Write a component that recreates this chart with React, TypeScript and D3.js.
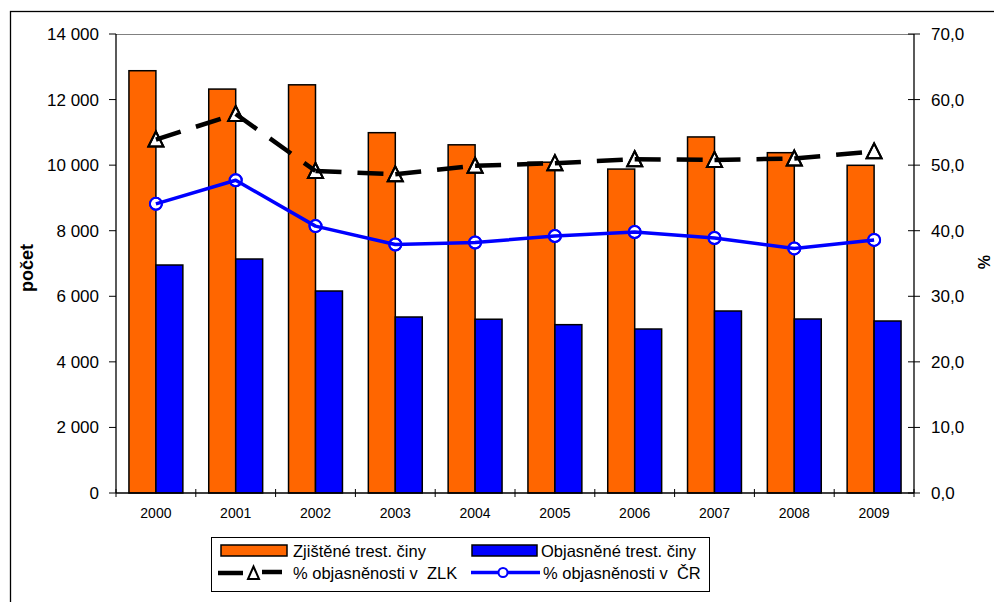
import React from "react";
import * as d3 from "d3";

const years = ["2000", "2001", "2002", "2003", "2004", "2005", "2006", "2007", "2008", "2009"];
const zjistene = [12880, 12320, 12450, 10990, 10620, 10090, 9880, 10860, 10380, 9995];
const objasnene = [6954, 7137, 6161, 5368, 5300, 5134, 5002, 5551, 5307, 5246];
const pctZLK = [53.9, 57.8, 49.1, 48.6, 49.9, 50.3, 50.9, 50.8, 51.0, 52.1];
const pctCR = [44.1, 47.7, 40.7, 37.9, 38.2, 39.2, 39.8, 38.9, 37.3, 38.6];
const leftTicks = [0, 2000, 4000, 6000, 8000, 10000, 12000, 14000];
const rightTicks = [0, 10, 20, 30, 40, 50, 60, 70];
const seriesNames = ["Zjištěné trest. činy", "Objasněné trest. činy", "% objasněnosti v  ZLK", "% objasněnosti v  ČR"];

const FONT = "'Liberation Sans', Arial, sans-serif";
const ORANGE = "#FF6600";
const BLUE = "#0000FF";

export default function App() {
  const L = 116, R = 914, T = 34, B = 493;
  const x = d3.scaleBand<string>().domain(years).range([L, R]).padding(0);
  const bw = x.bandwidth();
  const x1 = d3.scaleBand<string>().domain(["z", "o"]).range([0, bw]).paddingInner(0).paddingOuter(0.48);
  const yL = d3.scaleLinear().domain([0, 14000]).range([B, T]);
  const yR = d3.scaleLinear().domain([0, 70]).range([B, T]);
  const cx = (y: string) => (x(y) as number) + bw / 2;
  const fmtL = (v: number) => d3.format(",")(v).replace(/,/g, " ");
  const fmtR = (v: number) => d3.format(".1f")(v).replace(".", ",");

  const tri = (px: number, py: number, hw: number, up: number, dn: number) =>
    `M${px},${py - up}L${px + hw},${py + dn}L${px - hw},${py + dn}Z`;

  const zlkPts = years.map((y, i) => [cx(y), yR(pctZLK[i])] as [number, number]);
  const crPts = years.map((y, i) => [cx(y), yR(pctCR[i])] as [number, number]);
  const line = d3.line();

  return (
    <svg width={994} height={602} style={{ position: "absolute", left: 0, top: 0, background: "#fff" }} fontFamily={FONT}>
      <rect x={10.5} y={11.5} width={1000} height={700} fill="#fff" stroke="#000" strokeWidth={1.3} />
      {/* plot top border */}
      <line x1={L} x2={R} y1={T + 0.5} y2={T + 0.5} stroke="#808080" strokeWidth={1} />
      {/* bars */}
      {years.map((y, i) => (
        <g key={y}>
          <rect x={(x(y) as number) + (x1("z") as number)} y={yL(zjistene[i])} width={x1.bandwidth()} height={B - yL(zjistene[i])} fill={ORANGE} stroke="#000" strokeWidth={1.5} />
          <rect x={(x(y) as number) + (x1("o") as number)} y={yL(objasnene[i])} width={x1.bandwidth()} height={B - yL(objasnene[i])} fill={BLUE} stroke="#000" strokeWidth={1.5} />
        </g>
      ))}
      {/* axes */}
      <line x1={L} x2={L} y1={T} y2={B} stroke="#000" strokeWidth={1.3} />
      <line x1={R} x2={R} y1={T} y2={B} stroke="#000" strokeWidth={1.3} />
      <line x1={L} x2={R} y1={B} y2={B} stroke="#000" strokeWidth={1.3} />
      {leftTicks.map((t) => (
        <g key={"l" + t}>
          <line x1={L - 7} x2={L} y1={yL(t)} y2={yL(t)} stroke="#000" strokeWidth={1} />
          <text x={99} y={yL(t)} dy="0.35em" textAnchor="end" fontSize={17}>{fmtL(t)}</text>
        </g>
      ))}
      {rightTicks.map((t) => (
        <g key={"r" + t}>
          <line x1={R - 6} x2={R + 6} y1={yR(t)} y2={yR(t)} stroke="#000" strokeWidth={1} />
          <text x={931} y={yR(t)} dy="0.35em" textAnchor="start" fontSize={17}>{fmtR(t)}</text>
        </g>
      ))}
      {[...years.map((y) => x(y) as number), R].map((px, i) => (
        <line key={"xt" + i} x1={px} x2={px} y1={B - 4} y2={B + 4} stroke="#000" strokeWidth={1} />
      ))}
      {years.map((y) => (
        <text key={"xl" + y} x={cx(y)} y={518} textAnchor="middle" fontSize={14}>{y}</text>
      ))}
      {/* axis titles */}
      <text transform="translate(33,268) rotate(-90)" textAnchor="middle" fontSize={18} fontWeight="bold">počet</text>
      <text transform="translate(978,262) rotate(90)" textAnchor="middle" fontSize={16} fontWeight="bold">%</text>

      {/* markers first (white fill), lines on top */}
      {zlkPts.map(([px, py], i) => (
        <path key={"tm" + i} d={tri(px, py, 7.5, 8, 7)} fill="#fff" stroke="#000" strokeWidth={2} />
      ))}
      {crPts.map(([px, py], i) => (
        <circle key={"cm" + i} cx={px} cy={py} r={6} fill="#fff" stroke={BLUE} strokeWidth={2} />
      ))}
      {zlkPts.slice(1).map((p, i) => (
        <path key={"zs" + i} d={line([zlkPts[i], p]) as string} fill="none" stroke="#000" strokeWidth={4.5} strokeDasharray="26,16" />
      ))}
      <path d={line(crPts) as string} fill="none" stroke={BLUE} strokeWidth={3.5} strokeLinejoin="round" />
      {zlkPts.map(([px, py], i) => (
        <path key={"tm2" + i} d={tri(px, py, 7.5, 8, 7)} fill="none" stroke="#000" strokeWidth={2} />
      ))}
      {crPts.map(([px, py], i) => (
        <circle key={"cm2" + i} cx={px} cy={py} r={6} fill="none" stroke={BLUE} strokeWidth={2} />
      ))}

      {/* legend */}
      <rect x={211.5} y={537.5} width={498} height={54} fill="#fff" stroke="#000" strokeWidth={1} />
      <rect x={221} y={545} width={66} height={11} fill={ORANGE} stroke="#000" strokeWidth={1.5} />
      <text x={293} y={557} fontSize={16.5}>{seriesNames[0]}</text>
      <rect x={472} y={545} width={65} height={11} fill={BLUE} stroke="#000" strokeWidth={1.5} />
      <text x={541} y={557} fontSize={16.5}>{seriesNames[1]}</text>
      <line x1={218} x2={243} y1={573} y2={573} stroke="#000" strokeWidth={4.5} />
      <line x1={262} x2={282} y1={572} y2={572} stroke="#000" strokeWidth={4.5} />
      <path d={tri(253.5, 573, 5.5, 6.5, 6)} fill="#fff" stroke="#000" strokeWidth={2} />
      <text x={293} y={579} fontSize={16.5} style={{ whiteSpace: "pre" }}>{seriesNames[2]}</text>
      <line x1={471} x2={540} y1={572.5} y2={572.5} stroke={BLUE} strokeWidth={3.5} />
      <circle cx={503} cy={572.5} r={4.5} fill="#fff" stroke={BLUE} strokeWidth={2} />
      <text x={543} y={579} fontSize={16.5} style={{ whiteSpace: "pre" }}>{seriesNames[3]}</text>
    </svg>
  );
}
